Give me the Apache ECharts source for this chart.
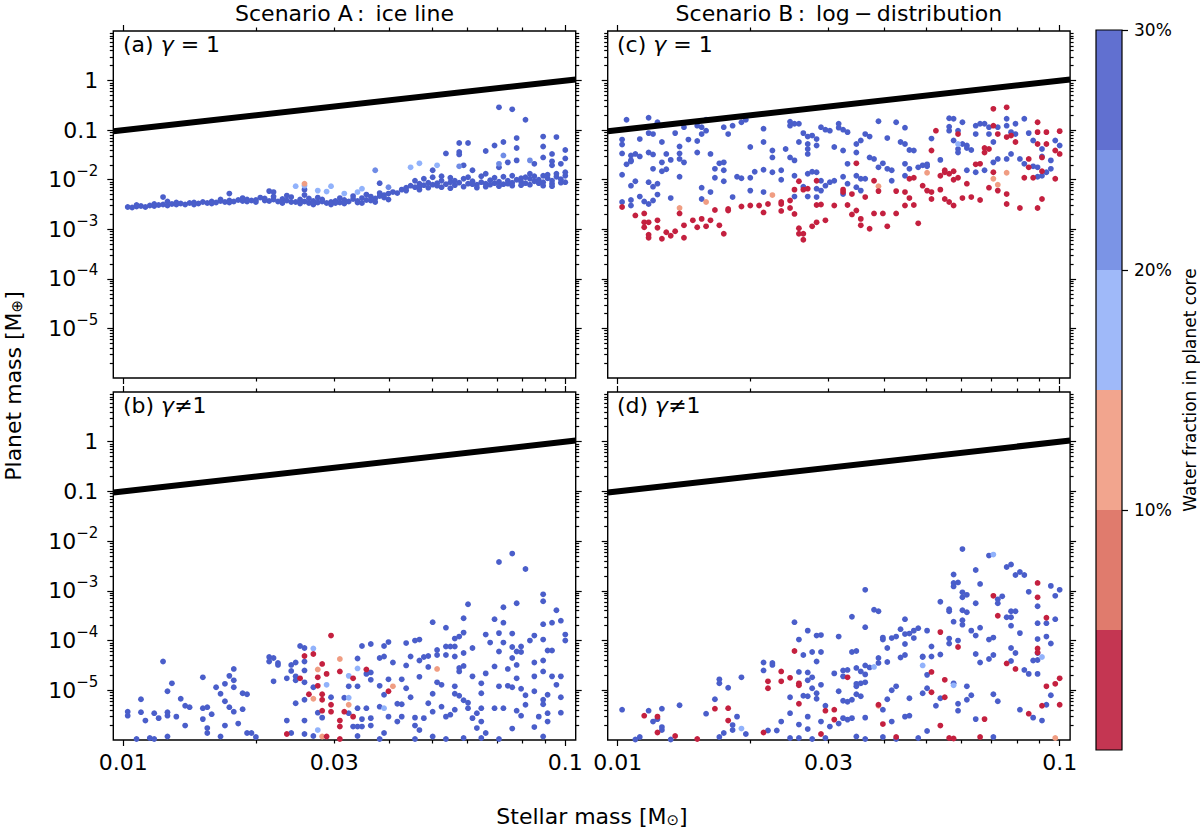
<!DOCTYPE html>
<html>
<head>
<meta charset="utf-8">
<script src="https://cdn.jsdelivr.net/npm/echarts@6/dist/echarts.min.js"></script>
<style>
html, body { margin: 0; padding: 0; background: #fff; }
#chart { width: 1200px; height: 830px; }
</style>
</head>
<body>
<div id="chart"></div>
<script>
// points are [log10 stellar mass (Msun), log10 planet mass (Mearth)], grouped by water-fraction bin
var aDark = [[-1.99,-2.55],[-1.98,-2.56],[-1.97,-2.54],[-1.96,-2.53],[-1.95,-2.55],[-1.94,-2.52],[-1.93,-2.53],[-1.92,-2.51],[-1.91,-2.50],[-1.90,-2.52],[-1.89,-2.49],[-1.88,-2.50],[-1.87,-2.48],[-1.86,-2.50],[-1.85,-2.47],[-1.84,-2.46],[-1.83,-2.48],[-1.82,-2.45],[-1.81,-2.47],[-1.80,-2.44],[-1.79,-2.46],[-1.78,-2.43],[-1.77,-2.45],[-1.76,-2.42],[-1.75,-2.44],[-1.74,-2.41],[-1.73,-2.43],[-1.72,-2.40],[-1.71,-2.42],[-1.70,-2.41],[-1.69,-2.36],[-1.68,-2.38],[-1.67,-2.43],[-1.66,-2.40],[-1.65,-2.44],[-1.64,-2.39],[-1.63,-2.42],[-1.62,-2.35],[-1.61,-2.45],[-1.60,-2.40],[-1.59,-2.44],[-1.59,-2.31],[-1.58,-2.47],[-1.57,-2.43],[-1.56,-2.46],[-1.55,-2.44],[-1.54,-2.47],[-1.53,-2.45],[-1.52,-2.43],[-1.51,-2.46],[-1.50,-2.41],[-1.49,-2.44],[-1.48,-2.39],[-1.47,-2.43],[-1.46,-2.37],[-1.45,-2.41],[-1.44,-2.34],[-1.43,-2.38],[-1.42,-2.33],[-1.41,-2.36],[-1.40,-2.28],[-1.39,-2.25],[-1.38,-2.27],[-1.37,-2.20],[-1.36,-2.16],[-1.35,-2.12],[-1.34,-2.15],[-1.33,-2.08],[-1.32,-2.11],[-1.31,-2.06],[-1.30,-2.10],[-1.29,-2.07],[-1.28,-2.02],[-1.27,-2.09],[-1.26,-2.05],[-1.25,-2.11],[-1.24,-2.06],[-1.23,-1.98],[-1.22,-2.08],[-1.21,-2.03],[-1.20,-2.10],[-1.19,-2.05],[-1.18,-2.08],[-1.17,-2.01],[-1.16,-2.07],[-1.15,-2.04],[-1.14,-2.09],[-1.13,-2.02],[-1.12,-2.06],[-1.11,-2.00],[-1.10,-2.04],[-1.09,-2.07],[-1.08,-1.98],[-1.07,-2.03],[-1.06,-2.00],[-1.05,-2.05],[-1.04,-1.97],[-1.03,-2.02],[-1.02,-1.94],[-1.01,-1.99],[-1.00,-1.92],
  [-1.62,-2.45],[-1.58,-2.38],[-1.55,-2.40],[-1.52,-2.47],[-1.47,-2.46],[-1.44,-2.42],[-1.41,-2.31],[-1.36,-2.22],[-1.33,-2.14],[-1.29,-2.12],[-1.25,-2.02],[-1.21,-2.09],[-1.17,-2.10],[-1.13,-2.08],[-1.10,-1.97],[-1.06,-2.07],[-1.03,-2.08],[-1.01,-2.06],[-1.78,-2.40],[-1.70,-2.45],[-1.66,-2.34],[-1.90,-2.44],[-1.67,-2.23],[-1.66,-2.25],[-1.91,-2.35],[-1.76,-2.28],[-1.59,-2.20],[-1.42,-2.07],
  [-1.34,-2.02],[-1.32,-1.98],[-1.30,-1.95],[-1.28,-1.93],[-1.26,-1.96],[-1.22,-1.95],[-1.19,-1.93],[-1.16,-1.96],[-1.14,-1.94],[-1.12,-1.92],[-1.09,-1.95],[-1.07,-1.93],[-1.04,-1.90],[-1.02,-1.88],[-1.00,-1.85],
  [-1.33,-2.20],[-1.31,-2.16],[-1.28,-2.15],[-1.26,-2.17],[-1.23,-2.14],[-1.20,-2.16],[-1.18,-2.14],[-1.15,-2.13],[-1.12,-2.12],[-1.10,-2.11],[-1.08,-2.10],[-1.05,-2.12],[-1.03,-2.13],[-1.00,-2.05],
  [-1.64,-2.47],[-1.60,-2.48],[-1.57,-2.50],[-1.53,-2.50],[-1.50,-2.48],[-1.46,-2.47],[-1.43,-2.45],[-1.40,-2.40],[-1.63,-2.32],[-1.56,-2.36],[-1.51,-2.37],[-1.48,-2.33],[-1.45,-2.30],[-1.42,-2.27],
  [-1.97,-2.51],[-1.93,-2.49],[-1.88,-2.46],[-1.84,-2.50],[-1.80,-2.48],[-1.76,-2.46],[-1.72,-2.44],[-1.68,-2.42],[-1.73,-2.37],
  [-1.15,-0.54],[-1.12,-0.58],[-1.09,-0.79],[-1.05,-1.13],[-1.02,-1.14],[-1.05,-1.33],[-1.00,-1.40],[-1.11,-1.16],[-1.16,-1.31],[-1.14,-1.24],[-1.24,-1.26],[-1.22,-1.26],[-1.24,-1.44],[-1.24,-1.49],[-1.27,-1.47],[-1.18,-1.42],[-1.11,-1.36],[-1.30,-1.81],[-1.23,-1.71],[-1.21,-1.81],[-1.18,-1.88],[-1.15,-1.75],[-1.13,-1.65],[-1.11,-1.61],[-1.07,-1.68],[-1.05,-1.55],[-1.03,-1.48],[-1.03,-1.63],[-1.01,-1.68],[-1.00,-1.57],[-1.03,-1.71],[-1.08,-1.88],[-1.05,-1.92]];
var aMid = [[-1.14,-1.51],[-1.24,-1.73],[-1.15,-1.68],[-1.08,-1.61],[-1.43,-1.81],[-1.40,-2.15]];
var aLight = [[-1.33,-1.67],[-1.35,-1.75],[-1.29,-1.71],[-1.46,-2.18],[-1.47,-2.25],[-1.50,-2.28],[-1.53,-2.13],[-1.54,-2.24],[-1.56,-2.22],[-1.59,-2.12],[-1.61,-2.13]];
var aSalmon = [[-1.59,-2.08]];

var bDark = [[-1.99,-5.43],[-1.99,-5.51],[-1.96,-5.18],[-1.96,-5.44],[-1.95,-5.61],[-1.93,-5.46],[-1.92,-5.56],[-1.90,-5.51],[-1.90,-5.44],[-1.88,-5.53],[-1.90,-5.02],[-1.89,-4.86],[-1.91,-4.42],[-1.87,-5.17],[-1.86,-5.31],[-1.85,-5.34],[-1.86,-5.71],[-1.97,-5.98],[-1.94,-5.96],[-1.93,-5.98],[-1.90,-5.93],[-1.82,-4.74],[-1.82,-5.36],[-1.81,-5.34],[-1.80,-5.48],[-1.82,-5.58],[-1.81,-5.76],[-1.81,-5.86],[-1.79,-4.94],[-1.78,-5.07],[-1.77,-5.22],[-1.76,-5.34],[-1.75,-5.43],[-1.77,-4.87],[-1.76,-4.71],[-1.75,-4.57],[-1.75,-4.80],[-1.75,-4.94],[-1.73,-5.06],[-1.72,-5.08],[-1.73,-5.38],[-1.74,-5.67],[-1.77,-5.71],[-1.78,-5.93],[-1.72,-5.86],[-1.71,-5.86],[-1.70,-5.94],[-1.67,-4.33],[-1.67,-4.42],[-1.66,-4.35],[-1.65,-4.45],[-1.65,-4.49],[-1.66,-4.82],[-1.62,-4.61],[-1.63,-4.76],[-1.62,-4.49],[-1.61,-4.44],[-1.61,-4.72],[-1.61,-4.80],[-1.60,-4.11],[-1.59,-4.15],[-1.59,-4.60],[-1.59,-4.42],[-1.59,-4.84],[-1.61,-5.26],[-1.59,-5.19],[-1.57,-4.94],[-1.63,-5.61],[-1.62,-5.86],[-1.59,-5.61],[-1.59,-5.88],[-1.57,-5.92],
  [-1.56,-5.45],[-1.55,-5.55],[-1.53,-5.14],[-1.50,-5.15],[-1.49,-4.92],[-1.49,-5.46],[-1.47,-4.92],[-1.47,-4.36],[-1.45,-4.67],[-1.46,-4.11],[-1.44,-4.07],[-1.44,-4.64],[-1.44,-4.79],[-1.42,-4.91],[-1.42,-4.35],[-1.41,-4.11],[-1.40,-4.03],[-1.41,-4.32],[-1.39,-4.44],[-1.40,-4.78],[-1.41,-5.09],[-1.42,-5.33],[-1.45,-5.36],[-1.47,-5.36],[-1.48,-5.73],[-1.47,-5.73],[-1.46,-5.73],[-1.44,-5.56],[-1.44,-5.71],[-1.46,-5.58],[-1.47,-5.92],[-1.40,-5.53],[-1.38,-5.27],[-1.37,-5.28],[-1.36,-4.50],[-1.35,-4.32],[-1.36,-4.05],[-1.34,-4.00],[-1.33,-3.98],[-1.33,-4.40],[-1.32,-4.33],[-1.31,-4.31],[-1.33,-4.73],[-1.36,-4.96],[-1.35,-5.14],[-1.34,-5.55],[-1.33,-5.80],[-1.34,-5.71],[-1.32,-5.56],[-1.31,-4.53],[-1.30,-3.63],[-1.29,-4.19],[-1.29,-4.29],[-1.27,-3.74],[-1.27,-4.12],[-1.27,-4.29],[-1.26,-4.12],[-1.25,-4.12],[-1.25,-4.32],[-1.29,-4.84],[-1.28,-4.89],[-1.30,-5.07],[-1.31,-5.26],[-1.30,-5.43],[-1.28,-5.33],[-1.27,-5.53],[-1.26,-5.49],[-1.25,-5.39],[-1.25,-5.07],[-1.25,-4.92],[-1.24,-4.55],[-1.23,-4.51],[-1.24,-4.62],[-1.25,-3.96],[-1.24,-3.92],[-1.23,-3.84],[-1.23,-3.55],[-1.23,-4.25],[-1.22,-3.27],[-1.22,-5.36],[-1.22,-5.25],[-1.23,-5.20],[-1.21,-4.15],[-1.21,-4.72],[-1.20,-5.46],[-1.19,-5.63],[-1.20,-5.76],[-1.19,-4.86],[-1.19,-5.06],[-1.18,-4.66],[-1.19,-5.36],[-1.18,-3.88],[-1.17,-4.04],[-1.16,-3.57],[-1.16,-4.52],[-1.16,-5.36],[-1.15,-2.42],[-1.14,-3.33],[-1.15,-3.85],[-1.14,-4.04],[-1.15,-4.22],[-1.15,-4.92],[-1.14,-5.36],[-1.14,-3.64],[-1.13,-4.91],[-1.13,-4.57],[-1.12,-3.86],[-1.12,-4.13],[-1.12,-4.35],[-1.12,-2.25],[-1.11,-3.25],[-1.11,-4.22],[-1.11,-4.76],[-1.11,-4.49],[-1.10,-4.97],[-1.10,-4.12],[-1.10,-4.23],[-1.11,-5.41],[-1.10,-5.51],[-1.12,-5.77],[-1.09,-2.56],[-1.09,-5.10],[-1.08,-4.00],[-1.07,-3.90],[-1.07,-4.44],[-1.07,-5.02],[-1.07,-4.72],[-1.06,-5.53],[-1.05,-3.07],[-1.05,-3.21],[-1.05,-3.67],[-1.05,-3.98],[-1.04,-4.20],[-1.03,-4.20],[-1.05,-4.40],[-1.05,-4.62],[-1.05,-5.19],[-1.05,-5.28],[-1.04,-5.46],[-1.05,-5.93],[-1.03,-4.72],[-1.03,-3.64],[-1.02,-3.39],[-1.01,-3.60],[-1.00,-3.88],[-1.00,-4.00],[-1.01,-4.72],[-1.02,-4.89],[-1.01,-5.14],[-1.04,-5.09],[-1.01,-5.45],[-1.04,-5.63],[-1.07,-5.74],[-1.09,-5.29],[-1.12,-4.94],[-1.18,-5.86],[-1.15,-5.98],[-1.19,-5.96],[-1.21,-5.56],[-1.24,-5.11],[-1.27,-5.98],[-1.30,-5.93],[-1.34,-5.98],[-1.23,-5.96],[-1.37,-4.78],[-1.37,-5.53],[-1.38,-5.63],[-1.41,-5.86],[-1.42,-5.98]];
var bLight = [[-1.57,-4.16],[-1.54,-4.89],[-1.47,-4.56],[-1.49,-5.15],[-1.41,-5.36],[-1.56,-5.80],[-1.49,-4.71]];
var bSalmon = [[-1.51,-4.37],[-1.56,-4.58],[-1.57,-5.17],[-1.49,-5.29],[-1.39,-4.92],[-1.29,-4.57],[-1.55,-5.93]];
var bRed = [[-1.53,-3.90],[-1.59,-4.31],[-1.57,-4.27],[-1.55,-4.47],[-1.56,-4.74],[-1.54,-4.67],[-1.60,-4.76],[-1.56,-4.91],[-1.58,-5.08],[-1.55,-5.08],[-1.53,-5.29],[-1.55,-5.19],[-1.55,-5.41],[-1.53,-5.43],[-1.51,-4.62],[-1.48,-4.76],[-1.45,-4.58],[-1.50,-5.43],[-1.48,-5.53],[-1.51,-5.61],[-1.51,-5.73],[-1.40,-5.02],[-1.63,-5.88],[-1.54,-5.93],[-1.51,-5.98]];

var cDark = [[-1.98,-0.79],[-1.93,-0.75],[-1.91,-0.84],[-1.93,-1.06],[-1.95,-1.18],[-1.99,-1.19],[-1.99,-1.29],[-1.99,-1.47],[-1.97,-1.51],[-1.96,-1.48],[-1.95,-1.53],[-1.97,-1.61],[-1.97,-1.63],[-1.98,-1.69],[-1.99,-1.90],[-1.96,-2.03],[-1.97,-2.12],[-1.99,-2.45],[-1.97,-2.41],[-1.97,-2.52],[-1.95,-2.34],[-1.94,-2.44],[-1.93,-2.49],[-1.92,-2.42],[-1.92,-1.08],[-1.90,-1.24],[-1.93,-1.45],[-1.92,-1.49],[-1.89,-1.48],[-1.90,-1.65],[-1.88,-1.60],[-1.92,-1.78],[-1.90,-1.83],[-1.89,-1.79],[-1.93,-2.05],[-1.92,-2.14],[-1.91,-2.08],[-1.91,-2.30],[-1.88,-2.37],[-1.86,-1.94],[-1.86,-1.33],[-1.86,-1.47],[-1.86,-1.58],[-1.85,-1.65],[-1.87,-1.06],[-1.85,-0.94],[-1.84,-1.19],[-1.82,-1.22],[-1.81,-0.94],[-1.82,-0.91],[-1.80,-0.79],[-1.82,-1.45],[-1.80,-1.01],[-1.81,-1.08],[-1.79,-1.48],[-1.78,-1.78],[-1.77,-1.67],[-1.76,-1.65],[-1.76,-1.81],[-1.78,-1.96],[-1.76,-2.03],[-1.81,-2.16],[-1.79,-2.25],[-1.81,-2.39],[-1.74,-2.35],[-1.76,-0.94],[-1.75,-1.08],[-1.74,-0.91],[-1.72,-0.84],[-1.71,-0.79],[-1.73,-1.94],[-1.72,-1.97],[-1.70,-1.34],[-1.69,-1.84],[-1.70,-1.96],[-1.70,-2.22],[-1.67,-2.25],[-1.67,-1.80],[-1.65,-1.85],[-1.65,-1.55],[-1.65,-1.41],[-1.67,-1.24],[-1.67,-0.97],[-1.63,-2.00],[-1.63,-1.81],[-1.61,-0.83],[-1.61,-0.91],[-1.62,-1.38],[-1.61,-1.55],[-1.60,-1.61],[-1.60,-1.92],[-1.60,-0.87],[-1.59,-0.87],[-1.58,-1.06],[-1.57,-1.13],[-1.56,-1.11],[-1.57,-1.28],[-1.59,-1.24],[-1.57,-1.38],[-1.57,-1.48],[-1.57,-1.88],[-1.56,-1.84],[-1.55,-1.85],[-1.54,-2.02],[-1.55,-2.18],[-1.54,-2.22],[-1.55,-2.35],[-1.53,-2.12],[-1.52,-2.05],[-1.57,-2.34],[-1.58,-2.14],[-1.60,-2.34],[-1.54,-0.94],[-1.53,-0.99],[-1.52,-1.01],[-1.50,-0.87],[-1.50,-0.95],[-1.49,-0.99],[-1.48,-1.04],[-1.55,-1.18],[-1.55,-1.31],[-1.51,-1.34],[-1.49,-1.41],[-1.48,-1.68],[-1.49,-1.94],[-1.51,-2.02],[-1.46,-1.92],[-1.45,-1.98],[-1.44,-1.98],[-1.46,-2.15],[-1.45,-2.22],[-1.49,-2.29],[-1.48,-2.08],[-1.46,-1.28],[-1.46,-1.45],[-1.45,-1.21],[-1.44,-1.08],[-1.43,-1.13],[-1.43,-1.55],[-1.42,-1.58],[-1.40,-1.67],[-1.41,-1.75],[-1.39,-1.78],[-1.38,-1.81],[-1.38,-2.02],[-1.41,-0.82],[-1.39,-1.16],[-1.37,-0.84],[-1.35,-0.95],[-1.36,-1.24],[-1.35,-1.28],[-1.34,-1.40],[-1.33,-1.41],[-1.35,-1.68],[-1.34,-1.78],[-1.35,-1.92],[-1.32,-1.75],[-1.31,-1.71],[-1.30,-1.73],[-1.30,-1.69],[-1.29,-1.17],[-1.27,-1.60],[-1.25,-0.76],[-1.24,-0.77],[-1.25,-0.93],[-1.25,-1.01],[-1.23,-1.01],[-1.22,-0.84],[-1.24,-1.21],[-1.23,-1.38],[-1.23,-1.45],[-1.22,-1.28],[-1.21,-1.31],[-1.21,-1.36],[-1.20,-1.40],[-1.19,-0.91],[-1.18,-0.87],[-1.17,-0.87],[-1.19,-1.08],[-1.16,-1.08],[-1.15,-1.24],[-1.16,-0.94],[-1.14,-0.94],[-1.12,-0.77],[-1.12,-0.91],[-1.10,-0.87],[-1.11,-1.04],[-1.10,-1.08],[-1.08,-0.77],[-1.07,-1.06],[-1.06,-1.21],[-1.04,-1.38],[-1.04,-1.53],[-1.02,-1.61],[-1.01,-1.21],[-1.00,-1.31],[-1.21,-1.81],[-1.19,-1.85],[-1.17,-1.81],[-1.15,-1.65],[-1.14,-1.58],[-1.12,-1.58],[-1.11,-1.48],[-1.09,-1.58],[-1.08,-1.68],[-1.06,-1.73],[-1.05,-1.75],[-1.03,-1.85],[-1.02,-1.78],[-1.04,-1.92],[-1.05,-1.94]];
var cLight = [[-1.23,-1.28]];
var cSalmon = [[-1.86,-2.57],[-1.80,-2.45],[-1.65,-2.31],[-1.41,-2.13],[-1.30,-1.86],[-1.15,-1.98],[-1.14,-2.10],[-1.12,-1.86]];
var cRed = [[-1.99,-2.55],[-1.96,-2.72],[-1.94,-2.68],[-1.94,-2.86],[-1.93,-2.86],[-1.94,-2.96],[-1.91,-2.82],[-1.91,-2.97],[-1.93,-3.11],[-1.93,-3.17],[-1.90,-3.19],[-1.89,-3.06],[-1.88,-3.13],[-1.87,-3.04],[-1.86,-2.68],[-1.85,-3.17],[-1.85,-2.92],[-1.83,-2.82],[-1.82,-2.96],[-1.81,-2.79],[-1.80,-2.94],[-1.79,-2.82],[-1.78,-2.61],[-1.77,-2.92],[-1.76,-3.09],[-1.75,-2.59],[-1.75,-2.62],[-1.72,-2.54],[-1.70,-2.52],[-1.68,-2.52],[-1.67,-2.66],[-1.66,-2.49],[-1.63,-2.49],[-1.63,-2.45],[-1.61,-2.42],[-1.63,-2.63],[-1.61,-2.57],[-1.60,-2.69],[-1.60,-2.20],[-1.59,-2.03],[-1.58,-2.20],[-1.57,-2.18],[-1.55,-2.02],[-1.55,-2.51],[-1.54,-2.50],[-1.56,-2.94],[-1.59,-2.98],[-1.58,-3.09],[-1.59,-3.09],[-1.58,-3.21],[-1.55,-2.86],[-1.53,-2.82],[-1.51,-2.52],[-1.49,-2.20],[-1.49,-2.25],[-1.47,-2.29],[-1.46,-1.67],[-1.48,-2.51],[-1.47,-2.70],[-1.46,-2.62],[-1.45,-2.79],[-1.45,-2.92],[-1.43,-2.99],[-1.42,-2.68],[-1.44,-2.35],[-1.42,-2.02],[-1.41,-2.23],[-1.40,-2.68],[-1.39,-2.94],[-1.37,-2.23],[-1.37,-2.68],[-1.35,-2.25],[-1.35,-2.52],[-1.34,-2.37],[-1.33,-2.51],[-1.32,-2.88],[-1.34,-1.98],[-1.33,-1.96],[-1.31,-2.12],[-1.30,-2.22],[-1.29,-2.25],[-1.29,-2.39],[-1.27,-2.20],[-1.27,-1.92],[-1.26,-1.85],[-1.26,-1.81],[-1.25,-1.88],[-1.24,-2.00],[-1.24,-1.83],[-1.23,-1.96],[-1.26,-2.39],[-1.25,-2.45],[-1.24,-2.52],[-1.22,-2.37],[-1.21,-2.08],[-1.20,-2.35],[-1.18,-2.41],[-1.16,-2.16],[-1.14,-2.22],[-1.12,-2.29],[-1.12,-2.49],[-1.09,-2.57],[-1.04,-2.39],[-1.05,-2.57],[-1.16,-1.38],[-1.15,-0.57],[-1.12,-0.54],[-1.15,-0.91],[-1.12,-1.14],[-1.10,-1.24],[-1.05,-0.84],[-1.05,-1.04],[-1.05,-1.28],[-1.03,-1.28],[-1.03,-1.04],[-1.00,-1.02],[-1.01,-1.41],[-1.00,-1.48],[-1.01,-1.98],[-1.08,-1.96],[-1.06,-1.96],[-1.07,-1.75],[-1.04,-1.83],[-1.15,-1.85],[-1.18,-1.68],[-1.19,-1.69],[-1.17,-1.36],[-1.17,-1.45],[-1.23,-1.08],[-1.28,-1.01],[-1.29,-1.41],[-1.07,-1.58],[-1.04,-1.55],[-1.14,-1.08],[-1.11,-1.11]];

var dDark = [[-1.99,-5.39],[-1.95,-5.94],[-1.96,-5.99],[-1.93,-5.41],[-1.91,-5.58],[-1.92,-5.63],[-1.90,-5.37],[-1.90,-5.80],[-1.90,-5.74],[-1.86,-5.30],[-1.88,-5.99],[-1.80,-5.47],[-1.78,-5.18],[-1.77,-4.78],[-1.77,-4.86],[-1.75,-4.95],[-1.72,-4.74],[-1.73,-5.53],[-1.74,-5.80],[-1.74,-5.70],[-1.76,-5.86],[-1.71,-5.88],[-1.77,-5.94],[-1.67,-4.44],[-1.67,-4.60],[-1.65,-4.45],[-1.65,-4.49],[-1.66,-5.81],[-1.64,-5.81],[-1.63,-5.63],[-1.61,-5.46],[-1.61,-5.14],[-1.60,-3.63],[-1.59,-3.98],[-1.57,-3.80],[-1.58,-4.29],[-1.56,-4.23],[-1.54,-4.23],[-1.55,-3.90],[-1.54,-3.89],[-1.55,-4.42],[-1.59,-4.63],[-1.57,-4.64],[-1.57,-4.80],[-1.56,-4.74],[-1.56,-4.96],[-1.54,-4.89],[-1.55,-5.06],[-1.58,-5.11],[-1.57,-5.12],[-1.55,-5.17],[-1.53,-5.31],[-1.57,-5.53],[-1.59,-5.69],[-1.57,-5.78],[-1.54,-5.63],[-1.52,-5.73],[-1.61,-5.96],[-1.59,-5.96],[-1.56,-5.98],[-1.53,-5.96],[-1.50,-3.92],[-1.47,-3.52],[-1.44,-3.73],[-1.44,-2.98],[-1.42,-3.38],[-1.41,-3.41],[-1.47,-4.23],[-1.46,-4.21],[-1.46,-4.55],[-1.45,-4.62],[-1.51,-4.66],[-1.49,-4.60],[-1.48,-4.59],[-1.49,-4.72],[-1.46,-4.87],[-1.45,-4.86],[-1.44,-4.84],[-1.44,-4.50],[-1.41,-4.45],[-1.41,-4.35],[-1.39,-4.43],[-1.39,-4.15],[-1.40,-3.98],[-1.40,-3.94],[-1.38,-3.95],[-1.37,-3.92],[-1.36,-3.77],[-1.35,-3.87],[-1.35,-3.57],[-1.34,-3.86],[-1.33,-3.95],[-1.33,-3.80],[-1.32,-3.75],[-1.30,-3.80],[-1.35,-4.07],[-1.35,-4.29],[-1.36,-4.34],[-1.31,-4.32],[-1.31,-4.33],[-1.29,-4.32],[-1.29,-4.12],[-1.30,-4.69],[-1.27,-4.28],[-1.25,-4.06],[-1.25,-3.41],[-1.25,-3.37],[-1.23,-2.83],[-1.24,-2.91],[-1.24,-2.84],[-1.24,-2.67],[-1.27,-3.22],[-1.22,-3.13],[-1.22,-3.03],[-1.21,-3.08],[-1.22,-3.39],[-1.21,-3.43],[-1.19,-3.25],[-1.19,-2.58],[-1.18,-2.86],[-1.16,-2.29],[-1.22,-2.16],[-1.24,-3.62],[-1.22,-3.59],[-1.22,-3.68],[-1.20,-3.80],[-1.18,-3.74],[-1.16,-3.98],[-1.15,-3.94],[-1.25,-3.96],[-1.23,-4.00],[-1.19,-3.90],[-1.19,-4.27],[-1.18,-4.44],[-1.16,-4.37],[-1.15,-4.29],[-1.14,-3.25],[-1.14,-3.17],[-1.13,-3.11],[-1.12,-2.52],[-1.11,-2.47],[-1.10,-2.68],[-1.09,-2.62],[-1.08,-2.68],[-1.07,-3.02],[-1.11,-3.41],[-1.10,-3.41],[-1.11,-3.53],[-1.12,-3.53],[-1.11,-3.70],[-1.09,-3.85],[-1.11,-4.15],[-1.10,-4.25],[-1.11,-4.41],[-1.08,-4.59],[-1.07,-4.67],[-1.05,-4.67],[-1.05,-4.39],[-1.05,-4.25],[-1.05,-3.97],[-1.03,-3.92],[-1.02,-4.06],[-1.05,-3.65],[-1.03,-3.65],[-1.02,-2.90],[-1.00,-2.98],[-1.01,-3.10],[-1.05,-3.31],[-1.01,-3.57],[-1.24,-4.86],[-1.21,-4.92],[-1.20,-5.10],[-1.23,-5.27],[-1.21,-5.19],[-1.19,-5.58],[-1.15,-5.08],[-1.14,-5.22],[-1.27,-5.16],[-1.28,-5.31],[-1.30,-5.82],[-1.06,-4.40],[-1.23,-5.41],[-1.06,-5.55],[-1.02,-5.10],[-1.03,-5.29],[-1.04,-5.61],[-1.09,-5.39],[-1.30,-4.96],[-1.31,-5.06],[-1.34,-5.16],[-1.34,-5.51],[-1.38,-5.63],[-1.40,-5.94],[-1.44,-5.55],[-1.46,-5.93],[-1.47,-5.56],[-1.48,-5.59],[-1.49,-5.56],[-1.50,-5.67],[-1.47,-5.19],[-1.46,-5.08],[-1.45,-5.12],[-1.46,-4.92],[-1.48,-5.23],[-1.49,-5.21],[-1.50,-5.02],[-1.44,-4.68],[-1.43,-4.54],[-1.38,-5.00],[-1.39,-5.18],[-1.40,-5.39],[-1.37,-4.92],[-1.35,-5.53],[-1.44,-5.98],[-1.37,-5.98],[-1.32,-5.96],[-1.15,-5.94]];
var dLight = [[-1.72,-5.77],[-1.31,-4.50],[-1.24,-4.90],[-1.42,-4.53],[-1.15,-2.27],[-1.04,-4.33]];
var dSalmon = [[-1.41,-5.31],[-1.01,-5.96]];
var dRed = [[-1.94,-5.51],[-1.91,-5.53],[-1.91,-5.85],[-1.87,-5.92],[-1.82,-5.98],[-1.78,-5.37],[-1.75,-5.36],[-1.75,-5.61],[-1.67,-5.85],[-1.66,-4.82],[-1.66,-4.96],[-1.63,-4.62],[-1.63,-4.82],[-1.61,-4.75],[-1.59,-4.86],[-1.59,-4.90],[-1.59,-5.27],[-1.60,-4.21],[-1.53,-5.41],[-1.51,-5.39],[-1.51,-5.59],[-1.54,-5.88],[-1.48,-4.74],[-1.41,-5.29],[-1.40,-5.68],[-1.37,-5.94],[-1.29,-4.63],[-1.27,-3.83],[-1.26,-4.79],[-1.29,-5.04],[-1.26,-5.14],[-1.27,-5.71],[-1.23,-4.13],[-1.17,-5.58],[-1.15,-3.10],[-1.14,-3.50],[-1.12,-4.46],[-1.10,-4.57],[-1.05,-2.84],[-1.05,-3.13],[-1.03,-3.54],[-1.05,-4.16],[-1.05,-4.24],[-1.03,-4.92],[-1.01,-4.87],[-1.00,-4.76],[-1.04,-5.31],[-1.00,-5.29],[-1.07,-5.47],[-1.25,-5.96],[-1.24,-5.97],[-1.18,-5.94]];

// water fraction (%) of each colour group, and the colour bins
var waterDark = 28, waterMid = 23, waterLight = 18, waterSalmon = 13, waterRed = 3;
var binEdges = [0, 5, 10, 15, 20, 25, 30];
var binWidth = [5, 5, 5, 5, 5, 5];
var pointColors = ['#c4203f', '#dc6d5c', '#f09d82', '#91b2fb', '#6f8be5', '#4a5eca'];
var barColors = ['#c43652', '#e07b6d', '#f2a58e', '#9fb9f9', '#7b94e6', '#6170d0'];
var cbarTicks = [10, 20, 30];

// limit line
var lineStar = [0.0095, 0.1056];
var lineMass = [0.095, 1.056];

// axes
var xMin = 0.009493, xMax = 0.10558, yMin = 1e-6, yMax = 10;
var xMajor = [0.01, 0.1];
var xMinor = [0.02, 0.03, 0.04, 0.05, 0.06, 0.07, 0.08, 0.09];
var xLabels = [0.01, 0.03, 0.1];
var yMajor = [1e-5, 1e-4, 1e-3, 1e-2, 0.1, 1];
var yLabels = [1e-5, 1e-4, 1e-3, 1e-2, 0.1, 1];
var yMinor = [];
for (var e = -6; e <= 0; e++) {
    for (var m = 2; m <= 9; m++) {
        yMinor.push(Number((m * Math.pow(10, e)).toPrecision(3)));
    }
}

var FONT = 'DejaVu Sans';
var chart = echarts.init(document.getElementById('chart'), null, { renderer: 'svg' });

var panels = [
    { grid: { left: 113.3, top: 31, width: 462.4, height: 347 }, groups: [[aDark, waterDark], [aMid, waterMid], [aLight, waterLight], [aSalmon, waterSalmon]], bottom: false },
    { grid: { left: 113.3, top: 392, width: 462.4, height: 348 }, groups: [[bDark, waterDark], [bLight, waterLight], [bSalmon, waterSalmon], [bRed, waterRed]], bottom: true },
    { grid: { left: 607.7, top: 31, width: 462.4, height: 347 }, groups: [[cDark, waterDark], [cLight, waterLight], [cSalmon, waterSalmon], [cRed, waterRed]], bottom: false },
    { grid: { left: 607.7, top: 392, width: 462.4, height: 348 }, groups: [[dDark, waterDark], [dLight, waterLight], [dSalmon, waterSalmon], [dRed, waterRed]], bottom: true }
];

var fmtX = function(v) {
    return String(Number(Number(v).toPrecision(2)));
};
var fmtY = function(v) {
    var p = Math.round(Math.log(v) / Math.LN10);
    if (p === 0) return '{b|1}';
    if (p === -1) return '{b|0.1}';
    return '{b|10}{s|\u2212' + (-p) + '}';
};
var yRich = {
    b: { fontSize: 22, lineHeight: 32, fontFamily: FONT, color: '#000' },
    s: { fontSize: 15, lineHeight: 14, verticalAlign: 'top', fontFamily: FONT, color: '#000' }
};

var makeX = function(g, pos, ticks, len, showLabel) {
    return {
        type: 'log', logBase: 10, gridIndex: g, position: pos, min: xMin, max: xMax,
        axisLine: { show: false }, splitLine: { show: false },
        axisTick: { show: true, inside: false, length: len, customValues: ticks, lineStyle: { color: '#000', width: 1.2 } },
        axisLabel: { show: showLabel, customValues: xLabels, formatter: fmtX, fontSize: 22, fontFamily: FONT, color: '#000', margin: 11 }
    };
};
var makeY = function(g, pos, ticks, len, showLabel) {
    return {
        type: 'log', logBase: 10, gridIndex: g, position: pos, min: yMin, max: yMax,
        axisLine: { show: false }, splitLine: { show: false },
        axisTick: { show: true, inside: false, length: len, customValues: ticks, lineStyle: { color: '#000', width: 1.2 } },
        axisLabel: { show: showLabel, customValues: yLabels, formatter: fmtY, rich: yRich, margin: 15 }
    };
};

var grids = [], xAxes = [], yAxes = [], series = [], scatterIdx = [];
panels.forEach(function(p, g) {
    grids.push(Object.assign({ show: true, borderColor: '#000', borderWidth: 1.4, backgroundColor: 'transparent' }, p.grid));
    xAxes.push(makeX(g, 'bottom', xMajor, 6, p.bottom));
    xAxes.push(makeX(g, 'bottom', xMinor, 3.5, false));
    xAxes.push(makeX(g, 'top', xMajor, 6, false));
    xAxes.push(makeX(g, 'top', xMinor, 3.5, false));
    yAxes.push(makeY(g, 'left', yMajor, 6, g < 2));
    yAxes.push(makeY(g, 'left', yMinor, 3.5, false));
    yAxes.push(makeY(g, 'right', yMajor, 6, false));
    yAxes.push(makeY(g, 'right', yMinor, 3.5, false));

    var data = [];
    p.groups.forEach(function(grp) {
        grp[0].forEach(function(pt) {
            data.push([Math.pow(10, pt[0]), Math.pow(10, pt[1]), grp[1]]);
        });
    });
    scatterIdx.push(series.length);
    series.push({
        type: 'scatter', xAxisIndex: g * 4, yAxisIndex: g * 4,
        symbolSize: 5.8, data: data, silent: true,
        itemStyle: { opacity: 1 }
    });
    series.push({
        type: 'line', xAxisIndex: g * 4, yAxisIndex: g * 4,
        data: [[lineStar[0], lineMass[0]], [lineStar[1], lineMass[1]]],
        symbol: 'none', silent: true, z: 3,
        lineStyle: { color: '#000', width: 6 }
    });
});

// colour bar
grids.push({ left: 1096, top: 30, width: 26, height: 720, show: true, borderColor: '#000', borderWidth: 1.2, backgroundColor: 'transparent', z: 5 });
xAxes.push({ type: 'category', gridIndex: 4, data: ['w'], show: false });
yAxes.push({
    type: 'value', gridIndex: 4, position: 'right', min: binEdges[0], max: binEdges[binEdges.length - 1],
    axisLine: { show: false }, splitLine: { show: false },
    axisTick: { show: true, inside: false, length: 6, customValues: cbarTicks, lineStyle: { color: '#000', width: 1.2 } },
    axisLabel: { customValues: cbarTicks, formatter: '{value}%', fontSize: 17, fontFamily: FONT, color: '#000', margin: 12 }
});
binWidth.forEach(function(w, i) {
    series.push({
        type: 'bar', xAxisIndex: 16, yAxisIndex: 16, stack: 'cbar', data: [w],
        barWidth: '100%', silent: true, itemStyle: { color: barColors[i] }
    });
});

var pieces = [];
for (var i = 0; i < binWidth.length; i++) {
    pieces.push({ min: binEdges[i], max: binEdges[i + 1], color: pointColors[i] });
}

var txt = function(x, y, text, size, extra) {
    return Object.assign({
        type: 'text', x: x, y: y, silent: true,
        style: {
            text: text, fill: '#000', font: size + 'px "' + FONT + '"', align: 'center', verticalAlign: 'middle',
            rich: {
                i: { fontStyle: 'italic', fontSize: size, fontFamily: FONT, fill: '#000' },
                sub: { fontSize: Math.round(size * 0.7), lineHeight: 12, verticalAlign: 'bottom', fontFamily: FONT, fill: '#000' }
            }
        }
    }, extra || {});
};
var leftTxt = function(x, y, text) {
    var t = txt(x, y, text, 22);
    t.style.align = 'left';
    return t;
};

chart.setOption({
    animation: false,
    backgroundColor: '#fff',
    grid: grids,
    xAxis: xAxes,
    yAxis: yAxes,
    visualMap: [{ type: 'piecewise', show: false, dimension: 2, seriesIndex: scatterIdx, pieces: pieces }],
    graphic: [
        txt(344.5, 13, 'Scenario A\u2009:\u2002ice line', 22),
        txt(838.9, 13, 'Scenario B\u2009:\u2002log\u2009\u2212\u2009distribution', 22),
        leftTxt(123, 44, '(a) {i|\u03b3} = 1'),
        leftTxt(123, 405, '(b) {i|\u03b3}\u22601'),
        leftTxt(617, 44, '(c) {i|\u03b3} = 1'),
        leftTxt(617, 405, '(d) {i|\u03b3}\u22601'),
        txt(13, 386, 'Planet mass [M{sub|\u2295}]', 22, { rotation: Math.PI / 2 }),
        txt(592, 816, 'Stellar mass [M{sub|\u2299}]', 22),
        txt(1190, 390, 'Water fraction in planet core', 17, { rotation: Math.PI / 2 })
    ],
    series: series
});

window.addEventListener('resize', function() {
    chart.resize();
});
</script>
</body>
</html>
